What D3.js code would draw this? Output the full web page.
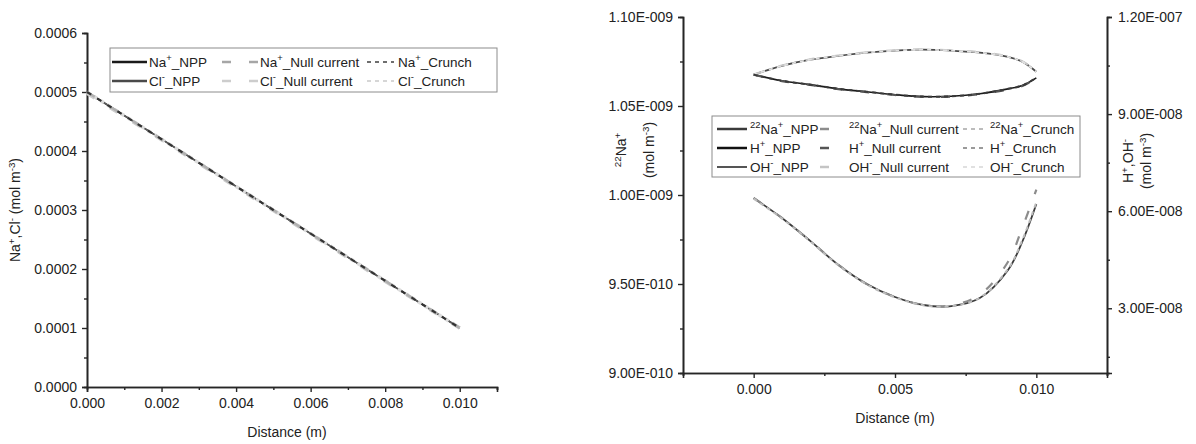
<!doctype html>
<html>

<head>
  <meta charset="utf-8">
  <title>concentration profiles</title>
  <style>
    body {
      margin: 0;
      background: #fff;
    }

    #chart svg {
      display: block;
      font-family: "Liberation Sans", Arial, sans-serif;
    }
  </style>
</head>

<body>
  <div id="chart"></div>
  <script src="https://cdn.jsdelivr.net/npm/d3@7"></script>
  <script>
    // left panel: Na+ / Cl-
    const distanceL = [0, 0.002, 0.004, 0.006, 0.008, 0.010];
    const naNPP = [5.0e-4, 4.2e-4, 3.4e-4, 2.6e-4, 1.8e-4, 1.0e-4];
    const naNull = [5.0e-4, 4.2e-4, 3.4e-4, 2.6e-4, 1.8e-4, 1.0e-4];
    const naCrunch = [5.0e-4, 4.2e-4, 3.4e-4, 2.6e-4, 1.8e-4, 1.0e-4];
    const clNPP = [5.0e-4, 4.2e-4, 3.4e-4, 2.6e-4, 1.8e-4, 1.0e-4];
    const clNull = [4.98e-4, 4.19e-4, 3.39e-4, 2.59e-4, 1.79e-4, 1.0e-4];
    const clCrunch = [5.0e-4, 4.2e-4, 3.4e-4, 2.6e-4, 1.8e-4, 1.0e-4];
    const leftYTicks = [0, 0.0001, 0.0002, 0.0003, 0.0004, 0.0005, 0.0006];
    const leftXTicks = [0, 0.002, 0.004, 0.006, 0.008, 0.010];

    // right panel: 22Na+ (left axis), H+ / OH- (right axis)
    const distanceR = [0, 0.001, 0.002, 0.003, 0.004, 0.005, 0.006, 0.007, 0.008, 0.009, 0.0095, 0.010];
    const na22NPP = [9.983e-10, 9.871e-10, 9.742e-10, 9.607e-10, 9.500e-10, 9.427e-10, 9.382e-10, 9.376e-10, 9.421e-10, 9.579e-10, 9.736e-10, 9.949e-10];
    const na22Null = [9.983e-10, 9.871e-10, 9.742e-10, 9.607e-10, 9.500e-10, 9.427e-10, 9.382e-10, 9.380e-10, 9.440e-10, 9.625e-10, 9.815e-10, 10.030e-10];
    const na22Crunch = [9.980e-10, 9.868e-10, 9.740e-10, 9.605e-10, 9.498e-10, 9.425e-10, 9.381e-10, 9.376e-10, 9.423e-10, 9.585e-10, 9.745e-10, 9.960e-10];
    const hNPP = [102.2e-9, 100.3e-9, 99.1e-9, 97.8e-9, 96.9e-9, 96.0e-9, 95.4e-9, 95.5e-9, 96.3e-9, 97.8e-9, 98.8e-9, 101.2e-9];
    const hNull = [102.2e-9, 100.2e-9, 99.0e-9, 97.7e-9, 96.8e-9, 95.9e-9, 95.3e-9, 95.4e-9, 96.2e-9, 97.6e-9, 98.7e-9, 101.0e-9];
    const hCrunch = [102.2e-9, 100.3e-9, 99.1e-9, 97.8e-9, 96.9e-9, 96.0e-9, 95.4e-9, 95.5e-9, 96.3e-9, 97.8e-9, 98.8e-9, 101.2e-9];
    const ohNPP = [102.2e-9, 104.9e-9, 106.8e-9, 108.0e-9, 109.0e-9, 109.6e-9, 109.9e-9, 109.6e-9, 109.0e-9, 107.7e-9, 106.2e-9, 103.1e-9];
    const ohNull = [102.2e-9, 105.0e-9, 106.9e-9, 108.1e-9, 109.1e-9, 109.7e-9, 110.0e-9, 109.7e-9, 109.1e-9, 107.8e-9, 106.3e-9, 103.3e-9];
    const ohCrunch = [102.2e-9, 104.9e-9, 106.8e-9, 108.0e-9, 109.0e-9, 109.6e-9, 109.9e-9, 109.6e-9, 109.0e-9, 107.7e-9, 106.2e-9, 103.1e-9];
    const rightXTicks = [0, 0.005, 0.010];
    const rightY1Ticks = [9.0e-10, 9.5e-10, 1.0e-9, 1.05e-9, 1.1e-9];
    const rightY2Ticks = [3e-8, 6e-8, 9e-8, 1.2e-7];

    const DASH = '9,18';
    const SHORT = '4,4';

    const svg = d3.select('#chart').append('svg')
      .attr('width', 1196)
      .attr('height', 444);

    const axisColor = '#262626';

    const sciFmt = (v) => {
      const [m, e] = v.toExponential(2).split('e');
      const n = +e;
      return `${m}E${n < 0 ? '-' : '+'}${String(Math.abs(n)).padStart(3, '0')}`;
    };

    const styleAxis = (g, fontSize) => {
      g.attr('font-family', null).attr('font-size', null);
      g.select('.domain').attr('stroke', axisColor).attr('stroke-width', 1.6);
      g.selectAll('.tick line').attr('stroke', axisColor).attr('stroke-width', 1.4);
      g.selectAll('.tick text').attr('fill', '#222').style('font-size', `${fontSize}px`);
    };

    // text with superscripts: parts = [[str, sup?], ...]
    const rich = (textSel, parts, size) => {
      parts.forEach(([str, sup], i) => {
        const prevSup = i > 0 && parts[i - 1][1];
        const t = textSel.append('tspan').text(str);
        if (sup && !prevSup) t.attr('dy', -size * 0.38).style('font-size', `${size * 0.7}px`);
        else if (sup) t.style('font-size', `${size * 0.7}px`);
        else if (prevSup) t.attr('dy', size * 0.38);
      });
    };

    const drawLegend = (g, box, cols, rows, entries, fontSize) => {
      g.append('rect')
        .attr('x', box.x).attr('y', box.y)
        .attr('width', box.w).attr('height', box.h)
        .attr('fill', '#fff')
        .attr('stroke', '#8c8c8c')
        .attr('stroke-width', 1);
      entries.forEach((e) => {
        const c = cols[e.col];
        const y = rows[e.row];
        g.append('line')
          .attr('x1', c.x1).attr('x2', c.x2)
          .attr('y1', y).attr('y2', y)
          .attr('stroke', e.color)
          .attr('stroke-width', e.width)
          .attr('stroke-dasharray', e.dash);
        const t = g.append('text')
          .attr('x', c.tx).attr('y', y)
          .attr('dominant-baseline', 'central')
          .attr('fill', '#222')
          .style('font-size', `${fontSize}px`);
        rich(t, e.label, fontSize);
      });
    };

    // ---------- left panel ----------
    const L = { left: 87, right: 497, top: 33, bottom: 387 };
    const xL = d3.scaleLinear().domain([0, 0.011]).range([L.left, L.right]);
    const yL = d3.scaleLinear().domain([0, 0.0006]).range([L.bottom, L.top]);

    const gL = svg.append('g');

    gL.append('g')
      .attr('transform', `translate(0,${L.bottom})`)
      .call(d3.axisBottom(xL).tickValues([0.001, 0.003, 0.005, 0.007, 0.009, 0.011]).tickSize(3).tickFormat(''))
      .call((g) => styleAxis(g, 14));
    gL.append('g')
      .attr('transform', `translate(0,${L.bottom})`)
      .call(d3.axisBottom(xL).tickValues(leftXTicks).tickSize(5).tickPadding(6).tickFormat(d3.format('.3f')))
      .call((g) => styleAxis(g, 14));
    gL.append('g')
      .attr('transform', `translate(${L.left},0)`)
      .call(d3.axisLeft(yL).tickValues(d3.range(0.00005, 0.0006, 0.0001)).tickSize(3).tickFormat(''))
      .call((g) => styleAxis(g, 14));
    gL.append('g')
      .attr('transform', `translate(${L.left},0)`)
      .call(d3.axisLeft(yL).tickValues(leftYTicks).tickSize(5).tickPadding(5).tickFormat(d3.format('.4f')))
      .call((g) => styleAxis(g, 14));

    const lineL = d3.line().x((d) => xL(d[0])).y((d) => yL(d[1]));
    const seriesL = [
      { values: naNPP, color: '#2a2a2a', dash: null, width: 1.5 },
      { values: clNPP, color: '#5a5a5a', dash: null, width: 1.5 },
      { values: clCrunch, color: '#dcdcdc', dash: SHORT, width: 3.5 },
      { values: clNull, color: '#cdcdcd', dash: DASH, width: 3.5 },
      { values: naNull, color: '#b0b0b0', dash: DASH, width: 2.5 },
      { values: naCrunch, color: '#333', dash: '5,7', width: 2.2 },
    ];
    seriesL.forEach((s) => {
      gL.append('path')
        .datum(distanceL.map((x, i) => [x, s.values[i]]))
        .attr('d', lineL)
        .attr('fill', 'none')
        .attr('stroke', s.color)
        .attr('stroke-width', s.width)
        .attr('stroke-dasharray', s.dash);
    });

    gL.append('text')
      .attr('x', (L.left + L.right) / 2 - 5)
      .attr('y', 437)
      .attr('text-anchor', 'middle')
      .attr('fill', '#222')
      .style('font-size', '14px')
      .text('Distance (m)');

    const yTitleL = gL.append('text')
      .attr('transform', `translate(20,${(L.top + L.bottom) / 2}) rotate(-90)`)
      .attr('text-anchor', 'middle')
      .attr('fill', '#222')
      .style('font-size', '14px');
    rich(yTitleL, [['Na', 0], ['+', 1], [',Cl', 0], ['-', 1], [' (mol m', 0], ['-3', 1], [')', 0]], 14);

    drawLegend(gL.append('g'),
      { x: 110, y: 48, w: 387, h: 44 },
      [{ x1: 112, x2: 147, tx: 149 }, { x1: 222, x2: 258, tx: 260 }, { x1: 367, x2: 394, tx: 398 }],
      [62, 81],
      [
        { col: 0, row: 0, label: [['Na', 0], ['+', 1], ['_NPP', 0]], color: '#1a1a1a', width: 2.5, dash: null },
        { col: 0, row: 1, label: [['Cl', 0], ['-', 1], ['_NPP', 0]], color: '#4a4a4a', width: 2.5, dash: null },
        { col: 1, row: 0, label: [['Na', 0], ['+', 1], ['_Null current', 0]], color: '#a6a6a6', width: 2.5, dash: DASH },
        { col: 1, row: 1, label: [['Cl', 0], ['-', 1], ['_Null current', 0]], color: '#cdcdcd', width: 2.5, dash: DASH },
        { col: 2, row: 0, label: [['Na', 0], ['+', 1], ['_Crunch', 0]], color: '#6e6e6e', width: 2, dash: SHORT },
        { col: 2, row: 1, label: [['Cl', 0], ['-', 1], ['_Crunch', 0]], color: '#d6d6d6', width: 2, dash: SHORT },
      ], 13.5);

    // ---------- right panel ----------
    const R = { left: 683, right: 1107, top: 17, bottom: 373 };
    const xR = d3.scaleLinear().domain([-0.0025, 0.0125]).range([R.left, R.right]);
    const yR1 = d3.scaleLinear().domain([9.0e-10, 1.1e-9]).range([R.bottom, R.top]);
    const yR2 = d3.scaleLinear().domain([1.0e-8, 1.2e-7]).range([R.bottom, R.top]);

    const gR = svg.append('g');

    gR.append('g')
      .attr('transform', `translate(0,${R.bottom})`)
      .call(d3.axisBottom(xR).tickValues([-0.0025, 0.0025, 0.0075, 0.0125]).tickSize(3).tickFormat(''))
      .call((g) => styleAxis(g, 14));
    gR.append('g')
      .attr('transform', `translate(0,${R.bottom})`)
      .call(d3.axisBottom(xR).tickValues(rightXTicks).tickSize(5).tickPadding(6).tickFormat(d3.format('.3f')))
      .call((g) => styleAxis(g, 14));
    gR.append('g')
      .attr('transform', `translate(${R.left},0)`)
      .call(d3.axisLeft(yR1).tickValues([9.25e-10, 9.75e-10, 1.025e-9, 1.075e-9]).tickSize(3).tickFormat(''))
      .call((g) => styleAxis(g, 14));
    gR.append('g')
      .attr('transform', `translate(${R.left},0)`)
      .call(d3.axisLeft(yR1).tickValues(rightY1Ticks).tickSize(5).tickPadding(5).tickFormat(sciFmt))
      .call((g) => styleAxis(g, 14));
    gR.append('g')
      .attr('transform', `translate(${R.right},0)`)
      .call(d3.axisRight(yR2).tickValues([1.5e-8, 4.5e-8, 7.5e-8, 1.05e-7]).tickSize(3).tickFormat(''))
      .call((g) => styleAxis(g, 14));
    gR.append('g')
      .attr('transform', `translate(${R.right},0)`)
      .call(d3.axisRight(yR2).tickValues(rightY2Ticks).tickSize(5).tickPadding(6).tickFormat(sciFmt))
      .call((g) => styleAxis(g, 14));

    const seriesR = [
      { values: ohNPP, y: yR2, color: '#4a4a4a', dash: null, width: 1.8 },
      { values: hNPP, y: yR2, color: '#1a1a1a', dash: null, width: 1.6 },
      { values: na22NPP, y: yR1, color: '#3a3a3a', dash: null, width: 1.8 },
      { values: ohNull, y: yR2, color: '#c4c4c4', dash: DASH, width: 2.2 },
      { values: hNull, y: yR2, color: '#555', dash: DASH, width: 2.2 },
      { values: na22Null, y: yR1, color: '#8c8c8c', dash: DASH, width: 2.2 },
      { values: ohCrunch, y: yR2, color: '#e0e0e0', dash: SHORT, width: 1.8 },
      { values: hCrunch, y: yR2, color: '#3a3a3a', dash: SHORT, width: 2 },
      { values: na22Crunch, y: yR1, color: '#bcbcbc', dash: SHORT, width: 2 },
    ];
    seriesR.forEach((s) => {
      const line = d3.line()
        .x((d) => xR(d[0]))
        .y((d) => s.y(d[1]))
        .curve(d3.curveCatmullRom.alpha(0.5));
      gR.append('path')
        .datum(distanceR.map((x, i) => [x, s.values[i]]))
        .attr('d', line)
        .attr('fill', 'none')
        .attr('stroke', s.color)
        .attr('stroke-width', s.width)
        .attr('stroke-dasharray', s.dash);
    });

    gR.append('text')
      .attr('x', (R.left + R.right) / 2)
      .attr('y', 423)
      .attr('text-anchor', 'middle')
      .attr('fill', '#222')
      .style('font-size', '14px')
      .text('Distance (m)');

    const yTitleR1 = gR.append('text')
      .attr('transform', `translate(626,150) rotate(-90)`)
      .attr('text-anchor', 'middle')
      .attr('fill', '#222')
      .style('font-size', '14px');
    yTitleR1.append('tspan').attr('x', 0).attr('y', 0).call((t) => rich(t, [['22', 1], ['Na', 0], ['+', 1]], 14));
    yTitleR1.append('tspan').attr('x', 0).attr('y', 28).call((t) => rich(t, [['(mol m', 0], ['-3', 1], [')', 0]], 14));

    const yTitleR2 = gR.append('text')
      .attr('transform', `translate(1133,161) rotate(-90)`)
      .attr('text-anchor', 'middle')
      .attr('fill', '#222')
      .style('font-size', '14px');
    yTitleR2.append('tspan').attr('x', 0).attr('y', 0).call((t) => rich(t, [['H', 0], ['+', 1], [',OH', 0], ['-', 1]], 14));
    yTitleR2.append('tspan').attr('x', 0).attr('y', 18).call((t) => rich(t, [['(mol m', 0], ['-3', 1], [')', 0]], 14));

    drawLegend(gR.append('g'),
      { x: 712, y: 116, w: 368, h: 61 },
      [{ x1: 717, x2: 747, tx: 750 }, { x1: 820, x2: 846, tx: 849 }, { x1: 963, x2: 987, tx: 990 }],
      [129, 148, 167],
      [
        { col: 0, row: 0, label: [['22', 1], ['Na', 0], ['+', 1], ['_NPP', 0]], color: '#3a3a3a', width: 2.5, dash: null },
        { col: 0, row: 1, label: [['H', 0], ['+', 1], ['_NPP', 0]], color: '#111', width: 2.5, dash: null },
        { col: 0, row: 2, label: [['OH', 0], ['-', 1], ['_NPP', 0]], color: '#555', width: 2, dash: null },
        { col: 1, row: 0, label: [['22', 1], ['Na', 0], ['+', 1], ['_Null current', 0]], color: '#8c8c8c', width: 2.5, dash: DASH },
        { col: 1, row: 1, label: [['H', 0], ['+', 1], ['_Null current', 0]], color: '#555', width: 2.5, dash: DASH },
        { col: 1, row: 2, label: [['OH', 0], ['-', 1], ['_Null current', 0]], color: '#c4c4c4', width: 2.5, dash: DASH },
        { col: 2, row: 0, label: [['22', 1], ['Na', 0], ['+', 1], ['_Crunch', 0]], color: '#bcbcbc', width: 2, dash: SHORT },
        { col: 2, row: 1, label: [['H', 0], ['+', 1], ['_Crunch', 0]], color: '#9a9a9a', width: 2, dash: SHORT },
        { col: 2, row: 2, label: [['OH', 0], ['-', 1], ['_Crunch', 0]], color: '#e0e0e0', width: 2, dash: SHORT },
      ], 13.5);
  </script>
</body>

</html>
